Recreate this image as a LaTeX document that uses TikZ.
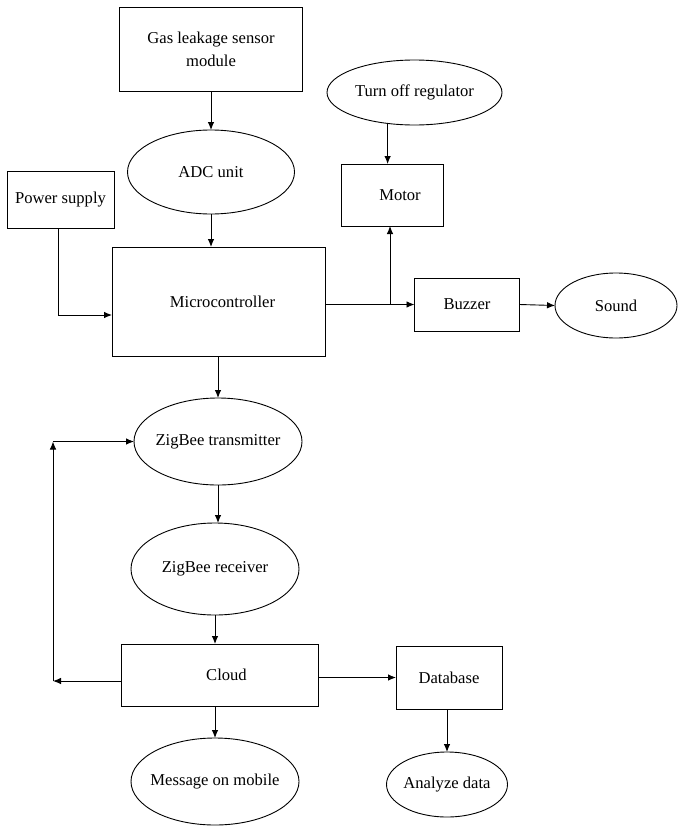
\documentclass[tikz,border=0pt]{standalone}
\usepackage{fontspec}
\setmainfont{Liberation Serif}
\usetikzlibrary{shapes.geometric,arrows.meta,calc}
\tikzset{
  blk/.style={draw, line width=0.9pt, rectangle, inner sep=0pt, outer sep=0pt, align=center},
  ell/.style={draw, line width=0.9pt, ellipse, inner sep=0pt, outer sep=0pt},
  arr/.style={line width=0.9pt, -{Latex[length=8pt,width=6.5pt]}},
  ln/.style={line width=0.9pt}
}
\begin{document}
\begin{tikzpicture}[x=1pt,y=-1pt,font=\fontsize{16.6}{23}\selectfont]
\useasboundingbox (0,0) rectangle (681,827);
% boxes
\node[blk, minimum width=183pt, minimum height=84pt] (gas) at (211,49) {Gas leakage sensor\\module};
\node[ell, minimum width=167pt, minimum height=84pt] (adc) at (211,172) {\makebox[0pt]{ADC unit}};
\node[blk, minimum width=107pt, minimum height=57pt] (pow) at (60.5,199.5) {Power supply};
\node[blk, minimum width=213pt, minimum height=109pt] (mic) at (218.5,301.5) {\makebox[0pt]{\hspace{8pt}Microcontroller}};
\node[ell, minimum width=175pt, minimum height=65pt] (reg) at (414.5,92.5) {\makebox[0pt]{Turn off regulator}};
\node[blk, minimum width=102pt, minimum height=62pt] (mot) at (392,195) {\makebox[0pt]{\hspace{16pt}Motor}};
\node[blk, minimum width=105pt, minimum height=53pt] (buz) at (467,304.5) {Buzzer};
\node[ell, minimum width=122pt, minimum height=65pt] (snd) at (616,305.5) {\makebox[0pt]{Sound}};
\node[ell, minimum width=168pt, minimum height=87pt] (zt) at (218,441.5) {\makebox[0pt]{ZigBee transmitter}};
\node[ell, minimum width=168pt, minimum height=92pt] (zr) at (215,569) {\makebox[0pt]{ZigBee receiver}};
\node[blk, minimum width=197pt, minimum height=62pt] (cld) at (219.5,675) {\makebox[0pt]{\hspace{14pt}Cloud}};
\node[blk, minimum width=106pt, minimum height=63pt] (db) at (449,677.5) {\makebox[0pt]{Database}};
\node[ell, minimum width=168pt, minimum height=87pt] (msg) at (215,781.5) {\makebox[0pt]{Message on mobile}};
\node[ell, minimum width=121pt, minimum height=65pt] (ana) at (447,784.5) {\makebox[0pt]{Analyze data}};
% helper coordinates
\coordinate (pc) at (58,315);
\coordinate (j) at (390,304.5);
\coordinate (c1) at (53,681);
\coordinate (c2) at (53,441.5);
% connectors
\draw[arr] (gas.south) -- (adc.north);
\draw[arr] (adc.south) -- (adc.south |- mic.north);
\draw[ln] (pow.south -| pc) -- (pc);
\draw[arr] (pc) -- (pc -| mic.west);
\draw[arr] (mic.east |- buz.west) -- (buz.west);
\draw[arr] (j) -- (j |- mot.south);
\draw[arr] (reg.229) -- (reg.229 |- mot.north);
\draw[arr] (buz.east) -- (snd.west);
\draw[arr] (zt.north |- mic.south) -- (zt.north);
\draw[arr] (zt.south) -- (zt.south |- zr.north);
\draw[arr] (zr.south) -- (zr.south |- cld.north);
\draw[arr] (msg.north |- cld.south) -- (msg.north);
\draw[arr] (cld.east |- db.west) -- (db.west);
\draw[arr] (ana.north |- db.south) -- (ana.north);
\draw[arr] (cld.west |- c1) -- (c1);
\draw[arr] (c1) -- (c2);
\draw[arr] (c2) -- (zt.west);
\end{tikzpicture}
\end{document}
